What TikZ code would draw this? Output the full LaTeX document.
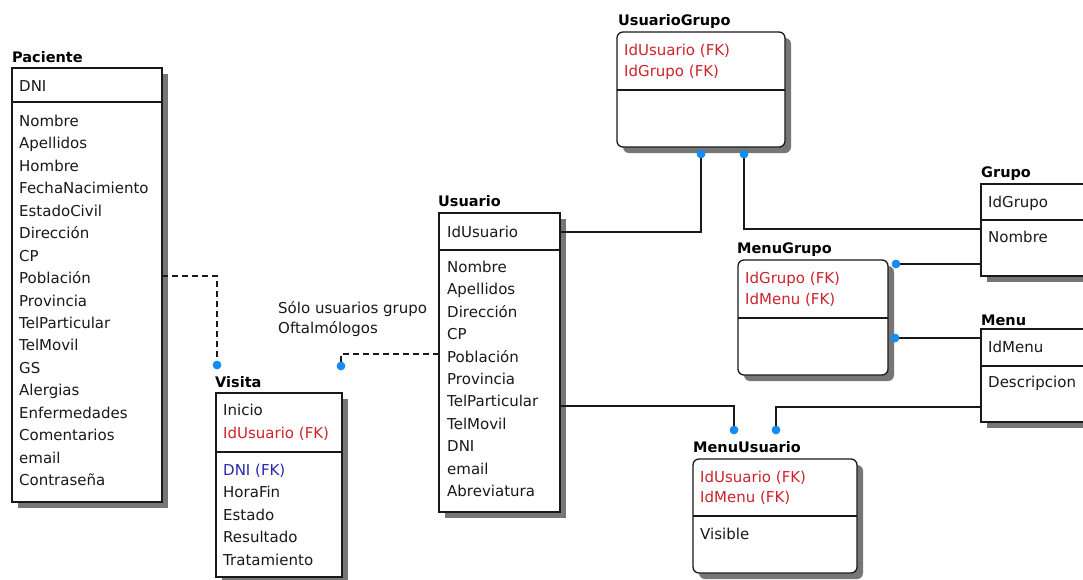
\documentclass[tikz,border=0pt]{standalone}
\usepackage{fontspec}
\setmainfont{DejaVu Sans}
\usetikzlibrary{shadows}
\definecolor{fkred}{RGB}{205,35,45}
\definecolor{fkblue}{RGB}{40,40,175}
\definecolor{dotblue}{RGB}{20,140,240}
\definecolor{shadowgray}{RGB}{118,118,118}
\definecolor{ink}{RGB}{25,25,25}
\newcommand\attrfont{\fontsize{15}{18}\selectfont}
\newcommand\headfont{\fontsize{14.5}{17}\selectfont\bfseries}
\tikzset{
  ent/.style={draw=ink, line width=1.3pt, fill=white, anchor=north west,
    inner sep=0pt, outer sep=0pt,
    general shadow={fill=shadowgray, shadow xshift=6pt, shadow yshift=-6pt}},
  rent/.style={ent, rounded corners=6pt},
  sep/.style={draw=ink, line width=1.3pt},
  attr/.style={anchor=base west, inner sep=0pt, font=\attrfont, text=ink},
  fk/.style={attr, text=fkred},
  fkb/.style={attr, text=fkblue},
  head/.style={anchor=base west, inner sep=0pt, font=\headfont, text=black},
  rel/.style={draw=ink, line width=1.2pt},
  optrel/.style={rel, dash pattern=on 6pt off 4pt},
  dot/.style={circle, fill=dotblue, inner sep=0pt, minimum size=8.5pt}
}
\begin{document}
\begin{tikzpicture}[x=1pt,y=-1pt]
\useasboundingbox (0,0) rectangle (1083,579);
\clip (0,0) rectangle (1083,579);
\fill[white] (0,0) rectangle (1083,579);

% ---------- Paciente ----------
\node[head] (tPac) at (12,62.5) {Paciente};
\node[ent, minimum width=150pt, minimum height=434pt] (paciente) at (12,68) {};
\draw[sep] (paciente.north west) ++(0,34) -- ++(150,0);
\node[attr] (pac0) at (19,91.5) {DNI};
\foreach \t [count=\i] in {Nombre,Apellidos,Hombre,FechaNacimiento,EstadoCivil,
  Dirección,CP,Población,Provincia,TelParticular,TelMovil,GS,Alergias,
  Enfermedades,Comentarios,email,Contraseña}
  \node[attr] (pac\i) at (19,{126.5+(\i-1)*22.44}) {\t};

% ---------- Visita ----------
\node[head] (tVis) at (215,387.5) {Visita};
\node[ent, minimum width=126pt, minimum height=184pt] (visita) at (216,393) {};
\draw[sep] (visita.north west) ++(0,59) -- ++(126,0);
\node[attr] (vis1) at (223,415.5) {Inicio};
\node[fk] (vis2) at (223,438.5) {IdUsuario (FK)};
\node[fkb] (vis3) at (223,475.5) {DNI (FK)};
\foreach \t [count=\i] in {HoraFin,Estado,Resultado,Tratamiento}
  \node[attr] (visb\i) at (223,{497.5+(\i-1)*22.5}) {\t};

% ---------- Usuario ----------
\node[head] (tUsu) at (438,206.5) {Usuario};
\node[ent, minimum width=121pt, minimum height=299pt] (usuario) at (439,213) {};
\draw[sep] (usuario.north west) ++(0,37) -- ++(121,0);
\node[attr] (usu0) at (447,237.5) {IdUsuario};
\foreach \t [count=\i] in {Nombre,Apellidos,Dirección,CP,Población,Provincia,
  TelParticular,TelMovil,DNI,email,Abreviatura}
  \node[attr] (usu\i) at (447,{272.5+(\i-1)*22.4}) {\t};

% ---------- UsuarioGrupo ----------
\node[head] (tUG) at (618,25.5) {UsuarioGrupo};
\node[rent, minimum width=168pt, minimum height=115pt] (usuarioGrupo) at (617,32) {};
\draw[sep] (usuarioGrupo.north west) ++(0,58) -- ++(168,0);
\node[fk] (ug1) at (624,55.5) {IdUsuario (FK)};
\node[fk] (ug2) at (624,76.5) {IdGrupo (FK)};

% ---------- Grupo ----------
\node[head] (tGru) at (981,177.5) {Grupo};
\node[ent, minimum width=130pt, minimum height=92pt] (grupo) at (981,184) {};
\draw[sep] (grupo.north west) ++(0,36) -- ++(130,0);
\node[attr] (gru1) at (988,207.5) {IdGrupo};
\node[attr] (gru2) at (988,242.5) {Nombre};

% ---------- MenuGrupo ----------
\node[head] (tMG) at (737,253.5) {MenuGrupo};
\node[rent, minimum width=150pt, minimum height=115pt] (menuGrupo) at (738,260) {};
\draw[sep] (menuGrupo.north west) ++(0,58) -- ++(150,0);
\node[fk] (mg1) at (745,283.5) {IdGrupo (FK)};
\node[fk] (mg2) at (745,304.5) {IdMenu (FK)};

% ---------- Menu ----------
\node[head] (tMen) at (981,325) {Menu};
\node[ent, minimum width=130pt, minimum height=93pt] (menu) at (981,329) {};
\draw[sep] (menu.north west) ++(0,37) -- ++(130,0);
\node[attr] (men1) at (988,352.5) {IdMenu};
\node[attr] (men2) at (988,387.5) {Descripcion};

% ---------- MenuUsuario ----------
\node[head] (tMU) at (693,452.5) {MenuUsuario};
\node[rent, minimum width=164pt, minimum height=114pt] (menuUsuario) at (693,459) {};
\draw[sep] (menuUsuario.north west) ++(0,57) -- ++(164,0);
\node[fk] (mu1) at (700,482.5) {IdUsuario (FK)};
\node[fk] (mu2) at (700,502.5) {IdMenu (FK)};
\node[attr] (mu3) at (700,539.5) {Visible};

% ---------- note ----------
\node[attr] (note1) at (278,313.5) {Sólo usuarios grupo};
\node[attr] (note2) at (278,333.5) {Oftalmólogos};

% ---------- relationship ends ----------
\node[dot] (dA) at (217,365) {};
\node[dot] (dB) at (341,366) {};
\node[dot] (dC) at (701,154) {};
\node[dot] (dD) at (744,154) {};
\node[dot] (dE) at (896,264) {};
\node[dot] (dF) at (895,338) {};
\node[dot] (dG) at (734,430) {};
\node[dot] (dH) at (776,430) {};

% ---------- relationships ----------
\draw[optrel] (paciente.east |- 0,276) -| (dA.center);
\draw[optrel] (usuario.west |- 0,354) -| (dB.center);
\draw[rel] (usuario.east |- 0,232) -| (dC.center);
\draw[rel] (grupo.west |- 0,229) -| (dD.center);
\draw[rel] (grupo.west |- 0,264) -- (dE.center);
\draw[rel] (menu.west |- 0,338) -- (dF.center);
\draw[rel] (usuario.east |- 0,406) -| (dG.center);
\draw[rel] (menu.west |- 0,407) -| (dH.center);

% dots on top of the lines
\foreach \d in {dA,dB,dC,dD,dE,dF,dG,dH}
  \fill[dotblue] (\d.center) circle (4.25);
\end{tikzpicture}
\end{document}
